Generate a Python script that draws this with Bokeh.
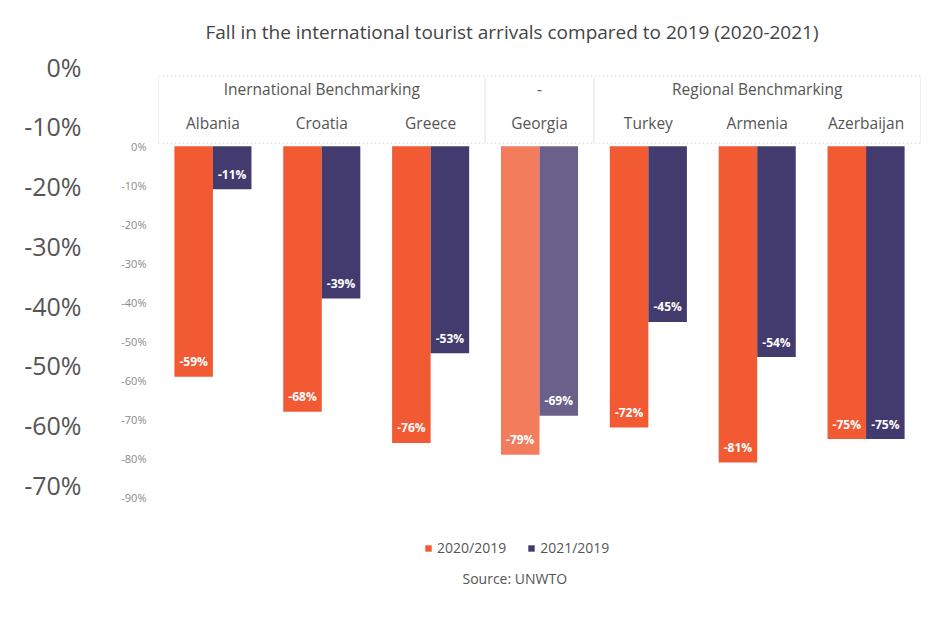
from bokeh.plotting import figure
from bokeh.models import (Range1d, FactorRange, LinearAxis, FixedTicker, Legend,
                          LegendItem, Label, ColumnDataSource)
from bokeh.transform import dodge
from bokeh.core.properties import value
from bokeh.embed import file_html
from bokeh.resources import INLINE

# ---------------- data ----------------
countries = ["Albania", "Croatia", "Greece", "Georgia", "Turkey", "Armenia", "Azerbaijan"]
groups = ["Inernational Benchmarking", "-", "Regional Benchmarking"]
group_sizes = [3, 1, 3]
fall_2020 = [-59, -68, -76, -79, -72, -81, -75]
fall_2021 = [-11, -39, -53, -69, -45, -54, -75]
series_names = ["2020/2019", "2021/2019"]
highlight = "Georgia"

inner_ticks = [0, -10, -20, -30, -40, -50, -60, -70, -80, -90]
inner_tick_labels = ["0%", "-10%", "-20%", "-30%", "-40%", "-50%", "-60%", "-70%", "-80%", "-90%"]
outer_ticks = [0, -10, -20, -30, -40, -50, -60, -70]
outer_tick_labels = ["0%", "-10%", "-20%", "-30%", "-40%", "-50%", "-60%", "-70%"]

title_text = "Fall in the international tourist arrivals compared to 2019 (2020-2021)"
source_text = "Source: UNWTO"

# ---------------- style ----------------
FONT = "Open Sans"
ORANGE, NAVY = "#F15A33", "#433A6E"
ORANGE_HL, NAVY_HL = "#F27C5C", "#6B6089"
GREY_TXT = "#555555"
LINE = "#E2E2E2"

src = ColumnDataSource(dict(
    country=countries,
    v20=fall_2020,
    v21=fall_2021,
    l20=[f"{v}%" for v in fall_2020],
    l21=[f"{v}%" for v in fall_2021],
    c20=[ORANGE_HL if c == highlight else ORANGE for c in countries],
    c21=[NAVY_HL if c == highlight else NAVY for c in countries],
))

p = figure(width=939, height=620,
           x_range=FactorRange(*countries, range_padding=0),
           y_range=Range1d(-121.48, 21.74),
           x_axis_location=None,
           min_border_left=158, min_border_right=19,
           min_border_top=60, min_border_bottom=0,
           output_backend="svg", toolbar_location=None)
p.outline_line_color = None
p.grid.visible = False
p.background_fill_color = "white"
p.border_fill_color = "white"

# title
p.title.text = title_text
p.title.text_font = FONT
p.title.text_font_size = "19px"
p.title.text_font_style = "normal"
p.title.text_color = "#444444"
p.title.align = "left"
p.title.offset = 47
p.title.standoff = 33

# inner (real) axis
ax = p.yaxis[0]
ax.ticker = FixedTicker(ticks=inner_ticks)
ax.major_label_overrides = {t: l for t, l in zip(inner_ticks, inner_tick_labels)}
ax.axis_line_color = None
ax.major_tick_line_color = None
ax.minor_tick_line_color = None
ax.major_label_text_font = FONT
ax.major_label_text_font_size = "11px"
ax.major_label_text_color = "#8A8A8A"
ax.major_label_standoff = 6

# outer (large) axis
p.extra_y_ranges = {"outer": Range1d(-92.72, 0.84)}
ax2 = LinearAxis(y_range_name="outer", ticker=FixedTicker(ticks=outer_ticks))
ax2.major_label_overrides = {t: l for t, l in zip(outer_ticks, outer_tick_labels)}
ax2.axis_line_color = None
ax2.major_tick_line_color = None
ax2.minor_tick_line_color = None
ax2.major_label_text_font = FONT
ax2.major_label_text_font_size = "25px"
ax2.major_label_text_color = GREY_TXT
ax2.major_label_standoff = 31
p.add_layout(ax2, "left")

# header box
n = len(countries)
bounds = [0]
for s in group_sizes:
    bounds.append(bounds[-1] + s)
p.segment(x0=bounds, y0=[0.8] * len(bounds), x1=bounds, y1=[17.6] * len(bounds),
          line_color=LINE, line_width=1)
p.segment(x0=[0], y0=[18.0], x1=[n], y1=[18.0], line_color=LINE, line_width=1, line_dash="2 2")
p.segment(x0=[0], y0=[0.8], x1=[n], y1=[0.8], line_color=LINE, line_width=1, line_dash="2 2")

gx = [(bounds[i] + bounds[i + 1]) / 2 for i in range(len(groups))]
p.text(x=gx, y=[14.6] * len(groups), text=groups, text_font=value(FONT),
       text_font_size="15.5px", text_color=GREY_TXT, text_align="center", text_baseline="middle")
p.text(x=countries, y=[5.9] * n, text=countries, text_font=value(FONT),
       text_font_size="15.5px", text_color=GREY_TXT, text_align="center", text_baseline="middle")

# bars
W = 0.354
r20 = p.vbar(x=dodge("country", -W / 2, range=p.x_range), top=0, bottom="v20", width=W,
             fill_color="c20", line_color=None, source=src)
r21 = p.vbar(x=dodge("country", W / 2, range=p.x_range), top=0, bottom="v21", width=W,
             fill_color="c21", line_color=None, source=src)

for col, lab, off in (("v20", "l20", -W / 2), ("v21", "l21", W / 2)):
    p.text(x=dodge("country", off, range=p.x_range), y=col, text=lab, source=src,
           text_font=value(FONT), text_font_size="12px", text_font_style="bold",
           text_color="white", text_align="center", text_baseline="middle", y_offset=-15)

legend = Legend(items=[LegendItem(label=series_names[0], renderers=[r20]),
                       LegendItem(label=series_names[1], renderers=[r21])],
                orientation="horizontal", location=(266, 63),
                label_text_font=FONT, label_text_font_size="14px", label_text_color=GREY_TXT,
                glyph_width=8, glyph_height=8, border_line_color=None,
                background_fill_alpha=0, spacing=21, label_standoff=5, padding=6, margin=0)
p.add_layout(legend, "center")

p.add_layout(Label(x=304, y=42, x_units="screen", y_units="screen", text=source_text,
                   text_font=FONT, text_font_size="14px", text_color=GREY_TXT,
                   text_baseline="middle"))

open("out.html", "w").write(file_html(p, INLINE))
